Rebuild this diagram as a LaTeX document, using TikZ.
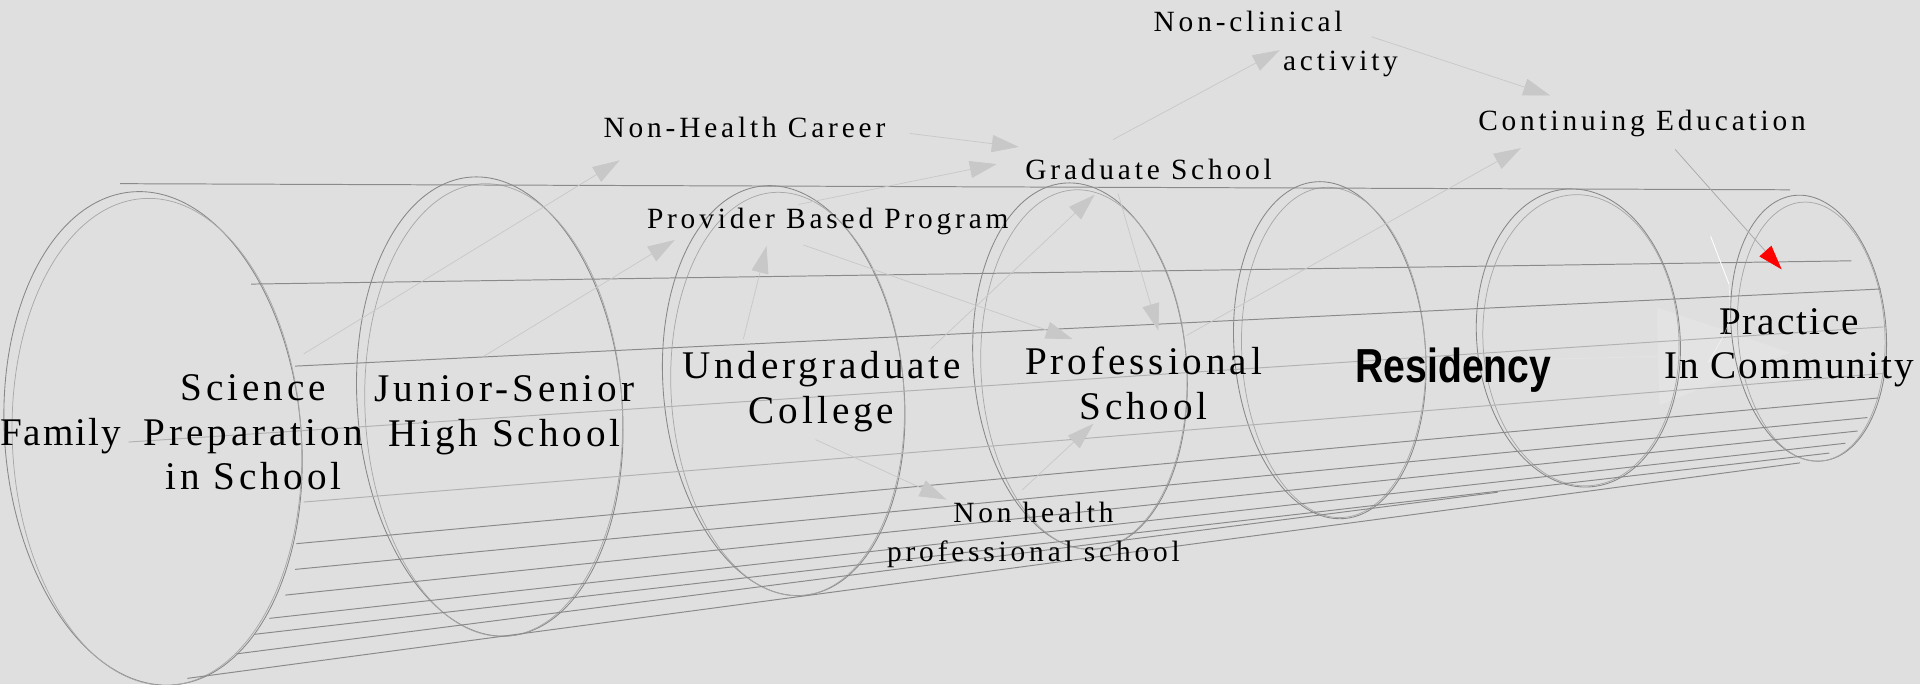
\documentclass[tikz,border=0pt]{standalone}
\usepackage{graphicx}
\usepackage{fontspec}
\setmainfont{Liberation Serif}
\newfontfamily\bigfont[LetterSpace=10]{Liberation Serif}
\newfontfamily\tightfont[LetterSpace=5]{Liberation Serif}
\newfontfamily\smallfont[LetterSpace=13]{Liberation Serif}
\newfontfamily\boldsans{Liberation Sans}
\usetikzlibrary{arrows.meta}
\definecolor{bg}{RGB}{223,223,223}
\definecolor{ringdark}{RGB}{136,136,136}
\definecolor{ringlight}{RGB}{168,168,168}
\definecolor{tubeline}{RGB}{138,138,138}
\definecolor{tubelight}{RGB}{178,178,178}
\definecolor{flowgray}{RGB}{200,200,200}
\definecolor{ghost}{RGB}{227,227,227}
\begin{document}
\begin{tikzpicture}[x=1pt,y=-1pt]

			\tikzstyle{ring}=[draw=ringdark,line width=0.7pt]
			\tikzstyle{ringback}=[draw=ringlight,line width=0.6pt]
			\tikzstyle{tube}=[draw=tubeline,line width=0.8pt]
			\tikzstyle{tubefaint}=[draw=tubelight,line width=0.8pt]
			\tikzstyle{flow}=[draw=flowgray,line width=0.6pt,
				-{Triangle[length=22pt,width=14pt]}]
			\tikzstyle{stage}=[inner sep=0pt,align=center,
				font=\bigfont\fontsize{32}{36.5}\selectfont]
			\tikzstyle{branch}=[inner sep=0pt,align=center,
				font=\smallfont\fontsize{24}{32}\selectfont]

			\fill[bg] (0,0) rectangle (1568,559);
			\useasboundingbox (0,0) rectangle (1568,559);

			\coordinate (res-out)	at (1062,299);
			\coordinate (pra-in2)	at (1462,288);
			\draw[draw=ghost,line width=0.8pt,
				-{Triangle[length=108pt,width=80pt]}]
				(res-out) -- (pra-in2);

			\coordinate (c1) at (125,358);
			\coordinate (c2) at (400,332);
			\coordinate (c3) at (640,319);
			\coordinate (c4) at (882,299);
			\coordinate (c5) at (1086,286);
			\coordinate (c6) at (1289,276);
			\coordinate (c7) at (1477,268);

			\draw[ring,rotate around={5:(c1)}] (c1) ellipse [x radius=121pt,y radius=202pt];
			\draw[ringback,rotate around={3:(c1)}] ([shift={(3,3)}]c1) ellipse [x radius=118pt,y radius=199pt];
			\draw[ring,rotate around={5:(c2)}] (c2) ellipse [x radius=108pt,y radius=188pt];
			\draw[ringback,rotate around={3:(c2)}] ([shift={(3,3)}]c2) ellipse [x radius=105pt,y radius=185pt];
			\draw[ring,rotate around={6:(c3)}] (c3) ellipse [x radius=98pt,y radius=168pt];
			\draw[ringback,rotate around={4:(c3)}] ([shift={(3,3)}]c3) ellipse [x radius=95pt,y radius=165pt];
			\draw[ring,rotate around={5:(c4)}] (c4) ellipse [x radius=87pt,y radius=150pt];
			\draw[ringback,rotate around={3:(c4)}] ([shift={(3,3)}]c4) ellipse [x radius=84pt,y radius=147pt];
			\draw[ring,rotate around={5:(c5)}] (c5) ellipse [x radius=78pt,y radius=138pt];
			\draw[ringback,rotate around={3:(c5)}] ([shift={(3,2)}]c5) ellipse [x radius=75pt,y radius=135pt];
			\draw[ring,rotate around={5:(c6)}] (c6) ellipse [x radius=83pt,y radius=122pt];
			\draw[ringback,rotate around={3:(c6)}] ([shift={(2,2)}]c6) ellipse [x radius=80pt,y radius=119pt];
			\draw[ring,rotate around={6:(c7)}] (c7) ellipse [x radius=63pt,y radius=109pt];
			\draw[ringback,rotate around={4:(c7)}] ([shift={(2,3)}]c7) ellipse [x radius=60pt,y radius=106pt];

			\draw[tube] (98,150) -- (1462,155);
			\draw[tube] (205,232) -- (1512,213);
			\draw[tube] (241,299) -- (1536,236);
			\draw[tubefaint] (105,361) -- (1538,267);
			\draw[tubefaint] (248,410) -- (1538,305);
			\draw[tube] (242,444) -- (1534,325);
			\draw[tube] (241,465) -- (1525,341);
			\draw[tube] (233,486) -- (1517,352);
			\draw[tube] (220,505) -- (1507,362);
			\draw[tube] (208,518) -- (1494,370);
			\draw[tube] (193,534) -- (1223,402);
			\draw[tube] (153,554) -- (1470,378);

			\node[stage,font=\tightfont\fontsize{32}{36.5}\selectfont,anchor=west]
				(fam)	at (0,356)	{Family};
			\node[stage]	(sci)	at (207,353)	{Science\\Preparation\\in School};
			\node[stage]	(jun)	at (412,339)	{Junior-Senior\\High School};
			\node[stage]	(und)	at (671,320)	{Undergraduate\\College};
			\node[stage]	(pro)	at (934,313)	{Professional\\School};
			\node[inner sep=0pt,font=\boldsans\bfseries\fontsize{39}{39}\selectfont]
				(res)	at (1187,302)	{\scalebox{0.82}[1]{Residency}};
			\node[stage,font=\tightfont\fontsize{32}{36.5}\selectfont]
				(pra)	at (1461,284)	{Practice\\In Community};
			\node[branch]	(nhc)	at (608,104)	{Non-Health Career};
			\node[branch]	(pbp)	at (676,181)	{Provider Based Program};
			\node[branch]	(grad)	at (938,138)	{Graduate School};
			\node[branch,align=left,anchor=west]	(ncl)	at (942,36)	{Non-clinical\\\hspace*{4.4em}activity};
			\node[branch]	(ce)	at (1341,101)	{Continuing Education};
			\node[branch]	(nhp)	at (844,437)	{Non health\\professional school};

			\coordinate (sci-out)	at (248,289);
			\coordinate (jun-out)	at (395,291);
			\coordinate (und-up)	at (607,277);
			\coordinate (und-out)	at (760,285);
			\coordinate (und-down)	at (666,359);
			\coordinate (nhc-in)	at (506,131);
			\coordinate (nhc-out)	at (743,109);
			\coordinate (pbp-in1)	at (551,196);
			\coordinate (pbp-in2)	at (626,201);
			\coordinate (pbp-out1)	at (652,167);
			\coordinate (pbp-out2)	at (656,200);
			\coordinate (grad-in1)	at (814,134);
			\coordinate (grad-in2)	at (832,120);
			\coordinate (grad-in3)	at (894,159);
			\coordinate (grad-out1)	at (909,114);
			\coordinate (grad-out2)	at (913,158);
			\coordinate (pro-in1)	at (876,277);
			\coordinate (pro-in2)	at (946,270);
			\coordinate (pro-in3)	at (893,346);
			\coordinate (pro-out)	at (969,274);
			\coordinate (nhp-in)	at (773,408);
			\coordinate (nhp-out)	at (835,400);
			\coordinate (ncl-in)	at (1045,41);
			\coordinate (ncl-out)	at (1120,30);
			\coordinate (ce-in1)	at (1242,121);
			\coordinate (ce-in2)	at (1266,78);
			\coordinate (ce-out)	at (1368,122);
			\coordinate (pra-in1)	at (1455,220);

			\draw[flow] (sci-out) -- (nhc-in);
			\draw[flow] (jun-out) -- (pbp-in1);
			\draw[flow] (und-up) -- (pbp-in2);
			\draw[flow] (pbp-out1) -- (grad-in1);
			\draw[flow] (nhc-out) -- (grad-in2);
			\draw[flow] (grad-out1) -- (ncl-in);
			\draw[flow] (pbp-out2) -- (pro-in1);
			\draw[flow] (und-out) -- (grad-in3);
			\draw[flow] (grad-out2) -- (pro-in2);
			\draw[flow] (und-down) -- (nhp-in);
			\draw[flow] (nhp-out) -- (pro-in3);
			\draw[flow] (pro-out) -- (ce-in1);
			\draw[flow] (ncl-out) -- (ce-in2);
			\draw[draw=ringlight,line width=0.6pt,
				-{Triangle[length=20pt,width=13pt,color=red,fill=red]}]
				(ce-out) -- (pra-in1);

			\draw[white,line width=0.7pt] (1397,193) -- (1412,232);
			\draw[white,line width=0.6pt,opacity=0.5] (1412,232) .. controls (1414,264) .. (1395,296);

\end{tikzpicture}
\end{document}
